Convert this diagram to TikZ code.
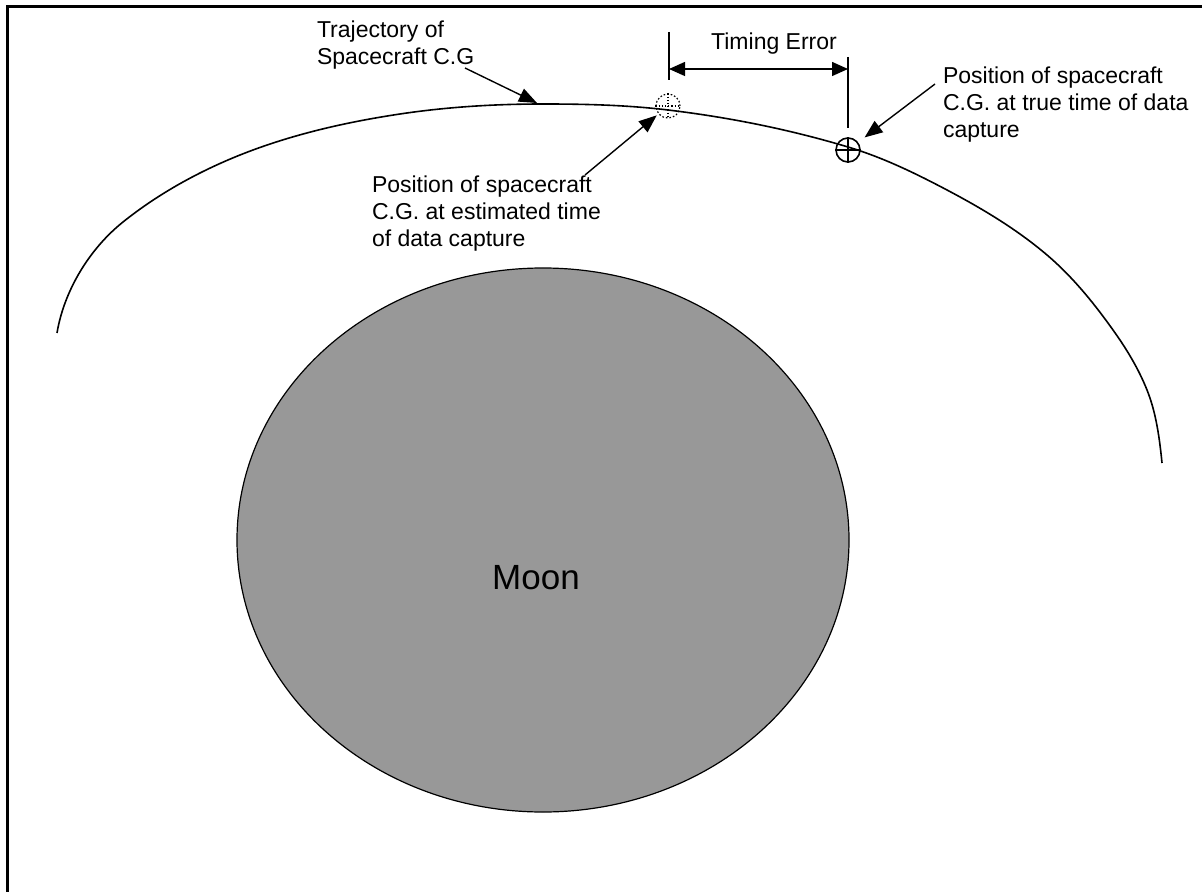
\documentclass[tikz,border=0pt]{standalone}
\usepackage{fontspec}
\setmainfont{Liberation Sans}
\usetikzlibrary{arrows.meta,shapes.geometric}
\begin{document}
\begin{tikzpicture}[x=0.5pt,y=-0.5pt,
  lbl/.style={inner sep=0pt, outer sep=0pt, align=left, font=\fontsize{11.5}{13.5}\selectfont},
  ptr/.style={-{Triangle[length=9pt,width=7pt]}, line width=0.7pt},
  dimarrow/.style={{Triangle[length=8pt,width=7pt]}-{Triangle[length=8pt,width=7pt]}, line width=0.7pt},
  tickline/.style={line width=0.8pt},
  orbit/.style={line width=0.8pt},
  framelines/.style={line width=1.5pt},
  posmark/.style={circle, draw, minimum size=12pt, inner sep=0pt, line width=0.8pt}]
\useasboundingbox (0,0) rectangle (1202,892);
\draw[framelines] (7,892) -- (7,7) -- (1202,7);
% Moon
\node[ellipse, draw, fill={rgb,255:red,152;green,152;blue,152}, line width=0.6pt,
      minimum width=306pt, minimum height=272pt, inner sep=0pt] (moon) at (543,540) {};
\node[inner sep=0pt, anchor=base, font=\fontsize{17.5}{21}\selectfont] (moonlbl) at (536,589) {Moon};
% orbit
\draw[orbit] (57,333)
  .. controls (64.1,290.6) and (89.4,248.9) .. (123,222)
  .. controls (158.1,193.9) and (198.3,171.7) .. (240,155)
  .. controls (291.1,134.6) and (345.5,122.2) .. (400,114)
  .. controls (447.3,106.9) and (495.2,104) .. (543,104)
  .. controls (584.7,104) and (626.6,105) .. (668,110)
  .. controls (728.9,117.3) and (789.3,129.4) .. (848,147)
  .. controls (882.5,157.3) and (915.2,173.2) .. (947,190)
  .. controls (982.2,208.6) and (1016.7,229.2) .. (1047,255)
  .. controls (1072.4,276.6) and (1093.7,302.9) .. (1113,330)
  .. controls (1126.4,348.7) and (1138.5,368.7) .. (1147,390)
  .. controls (1156.2,413) and (1159.5,438.3) .. (1162,463);
% positions
\node[posmark, densely dotted, line width=0.6pt] (est) at (668,106) {};
\draw[densely dotted, line width=0.6pt] (est.north) -- (est.south) (est.west) -- (est.east);
\node[posmark] (true) at (848,150) {};
\draw[line width=0.7pt] (true.north) -- (true.south) (true.west) -- (true.east);
% timing error
\coordinate (t1a) at (669,32);
\coordinate (t1b) at (669,80);
\coordinate (t2a) at (848,57);
\coordinate (t2b) at (848,128);
\coordinate (d1) at (669,69);
\coordinate (d2) at (848,69);
\draw[tickline] (t1a) -- (t1b);
\draw[tickline] (t2a) -- (t2b);
\draw[dimarrow] (d1) -- (d2);
\node[lbl, anchor=base] (telbl) at (774,50) {Timing Error};
% labels
\node[lbl, anchor=north west] (traj) at (317,21) {Trajectory of\\Spacecraft C.G};
\node[lbl, anchor=north west] (estlbl) at (372,176) {Position of spacecraft\\C.G. at estimated time\\of data capture};
\node[lbl, anchor=north west] (truelbl) at (943,67) {Position of spacecraft\\C.G. at true time of data\\capture};
% pointers
\coordinate (trajtail) at (465,68);
\coordinate (trajpt) at (537,103);
\coordinate (esttail) at (585,175);
\coordinate (truetail) at (935,84);
\draw[ptr] (trajtail) -- (trajpt);
\draw[ptr, shorten >=1pt] (esttail) -- (est);
\draw[ptr, shorten >=4pt] (truetail) -- (true);
\end{tikzpicture}
\end{document}
